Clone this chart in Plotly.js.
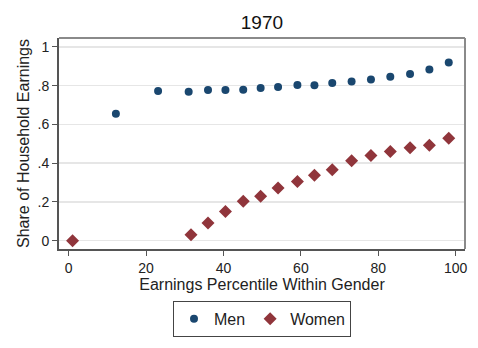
<!DOCTYPE html>
<html>
<head>
<meta charset="utf-8">
<script src="https://cdn.plot.ly/plotly-3.0.1.min.js"></script>
<style>html,body{margin:0;padding:0;background:#fff;}#chart{width:478px;height:348px;}</style>
</head>
<body>
<div id="chart"></div>
<script>
var menX = [12.2, 23.1, 31.0, 36.0, 40.5, 45.1, 49.6, 54.1, 59.1, 63.5, 68.1, 73.1, 78.1, 83.1, 88.2, 93.2, 98.2];
var menY = [0.655, 0.773, 0.769, 0.778, 0.778, 0.779, 0.788, 0.793, 0.803, 0.802, 0.814, 0.822, 0.832, 0.846, 0.860, 0.884, 0.920];
var womenX = [1.0, 31.6, 36.0, 40.5, 45.1, 49.6, 54.1, 59.1, 63.5, 68.1, 73.1, 78.1, 83.1, 88.2, 93.2, 98.2];
var womenY = [0.0, 0.031, 0.091, 0.150, 0.203, 0.229, 0.272, 0.306, 0.338, 0.366, 0.412, 0.439, 0.460, 0.479, 0.492, 0.528];
var xTicks = [0, 20, 40, 60, 80, 100];
var yTicks = [0, 0.2, 0.4, 0.6, 0.8, 1];
var yTickLabels = ["0", ".2", ".4", ".6", ".8", "1"];

var font = "Liberation Sans, Arial, sans-serif";
var data = [
  {x: menX, y: menY, type: "scatter", mode: "markers", name: "Men",
   marker: {symbol: "circle", size: 8, color: "#1a476f"}},
  {x: womenX, y: womenY, type: "scatter", mode: "markers", name: "Women",
   marker: {symbol: "diamond", size: 10, color: "#90353b"}}
];
var layout = {
  width: 478, height: 348,
  margin: {l: 59, r: 13, t: 38, b: 98},
  paper_bgcolor: "#ffffff", plot_bgcolor: "#ffffff",
  font: {family: font, color: "#222", size: 14},
  title: {text: "1970", font: {size: 19, color: "#111"}, x: 0.548, xanchor: "center", y: 0.935, yanchor: "middle"},
  xaxis: {range: [-2.5, 102.4], tickvals: xTicks, ticks: "outside", ticklen: 5, tickcolor: "#555",
          showgrid: false, zeroline: false, showline: true, linecolor: "#555", linewidth: 2,
          tickfont: {size: 14, color: "#222"},
          title: {text: "Earnings Percentile Within Gender", font: {size: 16, color: "#222"}, standoff: 0}},
  yaxis: {range: [-0.043, 1.046], tickvals: yTicks, ticktext: yTickLabels, ticks: "outside", ticklen: 5, tickcolor: "#555",
          showgrid: true, gridcolor: "#e6e6e6", gridwidth: 1.5, zeroline: false, showline: true, linecolor: "#555", linewidth: 2,
          tickfont: {size: 14, color: "#222"},
          title: {text: "Share of Household Earnings", font: {size: 16, color: "#222"}, standoff: 4}},
  shapes: [
    {type: "line", xref: "paper", yref: "paper", x0: 0, x1: 1, y0: 1, y1: 1, line: {color: "#8a8a8a", width: 2}},
    {type: "line", xref: "paper", yref: "paper", x0: 1, x1: 1, y0: 0, y1: 1, line: {color: "#8a8a8a", width: 2}}
  ],
  showlegend: true,
  legend: {orientation: "h", x: 0.5, xanchor: "center", y: -0.24, yanchor: "top",
           bordercolor: "#444", borderwidth: 1, font: {size: 16, color: "#222"}, itemwidth: 30,
           tracegroupgap: 0}
};
Plotly.newPlot("chart", data, layout, {displayModeBar: false, staticPlot: true});
</script>
</body>
</html>
